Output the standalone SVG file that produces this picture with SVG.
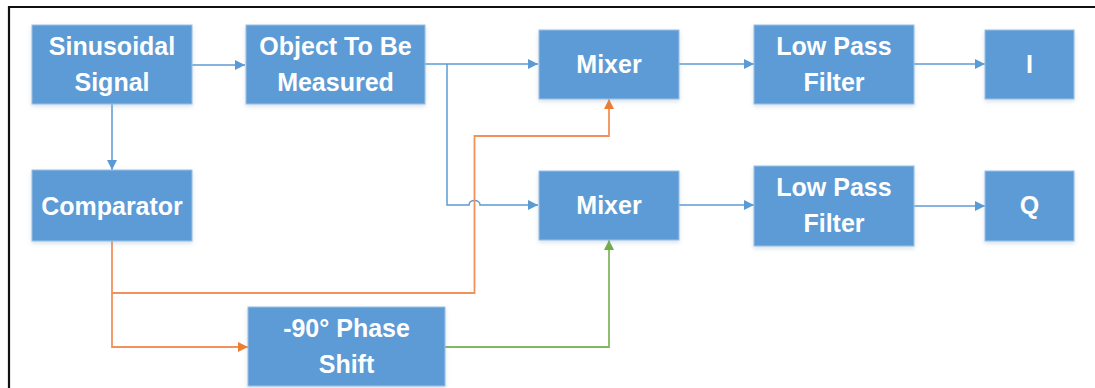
<svg xmlns="http://www.w3.org/2000/svg" width="1095" height="388" viewBox="0 0 1095 388">
<style>
.box{fill:#5B9BD5;stroke:#9CC0E6;stroke-width:1;filter:url(#sh)}
.t{font-family:"Liberation Sans",Arial,sans-serif;font-weight:bold;font-size:25px;fill:#fff;text-anchor:middle}
.b{fill:none;stroke:#5B9BD5;stroke-width:1.5}
.o{fill:none;stroke:#F0925A;stroke-width:1.8}
.g{fill:none;stroke:#82B960;stroke-width:1.8}
</style>
<defs>
<filter id="sh" x="-10%" y="-10%" width="120%" height="130%">
<feDropShadow dx="0" dy="2" stdDeviation="2" flood-color="#8fa9c4" flood-opacity="0.35"/>
</filter>
<marker id="ab" markerUnits="userSpaceOnUse" markerWidth="12" markerHeight="12" refX="10" refY="5" orient="auto"><path d="M0,0 L10,5 L0,10 Z" fill="#5B9BD5"/></marker>
<marker id="ao" markerUnits="userSpaceOnUse" markerWidth="12" markerHeight="12" refX="10" refY="5" orient="auto"><path d="M0,0 L10,5 L0,10 Z" fill="#ED7D31"/></marker>
<marker id="ag" markerUnits="userSpaceOnUse" markerWidth="12" markerHeight="12" refX="10" refY="5" orient="auto"><path d="M0,0 L10,5 L0,10 Z" fill="#70AD47"/></marker>
</defs>
<rect width="1095" height="388" fill="#fff"/>
<path d="M9,388 V7 H1095" fill="none" stroke="#111" stroke-width="2.2"/>
<g id="connectors">
<path class="b" d="M192,65 H245" marker-end="url(#ab)"/>
<path class="b" d="M112,104 V170" marker-end="url(#ab)"/>
<path class="b" d="M425,64 H538" marker-end="url(#ab)"/>
<path class="b" d="M447,64 V205 H469 C469,199 480,199 480,205 H538" marker-end="url(#ab)"/>
<path class="b" d="M679,64 H754" marker-end="url(#ab)"/>
<path class="b" d="M679,205 H754" marker-end="url(#ab)"/>
<path class="b" d="M914,64 H985" marker-end="url(#ab)"/>
<path class="b" d="M914,206 H985" marker-end="url(#ab)"/>
<path class="o" d="M112,241 V293 H474.5 V136 H609 V99" marker-end="url(#ao)"/>
<path class="o" d="M112,293 V347 H248" marker-end="url(#ao)"/>
<path class="g" d="M445,347 H609 V240" marker-end="url(#ag)"/>
</g>
<g id="sinusoidal"><rect class="box" x="32" y="25" width="160" height="79"/><text class="t" x="112" y="55">Sinusoidal</text><text class="t" x="112" y="91">Signal</text></g>
<g id="object"><rect class="box" x="246" y="25" width="179" height="79"/><text class="t" x="335.5" y="55">Object To Be</text><text class="t" x="335.5" y="91">Measured</text></g>
<g id="mixer1"><rect class="box" x="539" y="30" width="140" height="69"/><text class="t" x="609" y="73">Mixer</text></g>
<g id="lpf1"><rect class="box" x="754" y="25" width="160" height="79"/><text class="t" x="834" y="55">Low Pass</text><text class="t" x="834" y="91">Filter</text></g>
<g id="i"><rect class="box" x="985" y="30" width="89" height="69"/><text class="t" x="1029.5" y="73">I</text></g>
<g id="comparator"><rect class="box" x="32" y="170" width="160" height="71"/><text class="t" x="112" y="215">Comparator</text></g>
<g id="mixer2"><rect class="box" x="539" y="171" width="140" height="69"/><text class="t" x="609" y="214">Mixer</text></g>
<g id="lpf2"><rect class="box" x="754" y="166" width="160" height="80"/><text class="t" x="834" y="196">Low Pass</text><text class="t" x="834" y="232">Filter</text></g>
<g id="q"><rect class="box" x="985" y="171" width="89" height="70"/><text class="t" x="1029.5" y="214">Q</text></g>
<g id="phase"><rect class="box" x="248" y="307" width="197" height="79"/><text class="t" x="346.5" y="337">-90° Phase</text><text class="t" x="346.5" y="373">Shift</text></g>
</svg>
